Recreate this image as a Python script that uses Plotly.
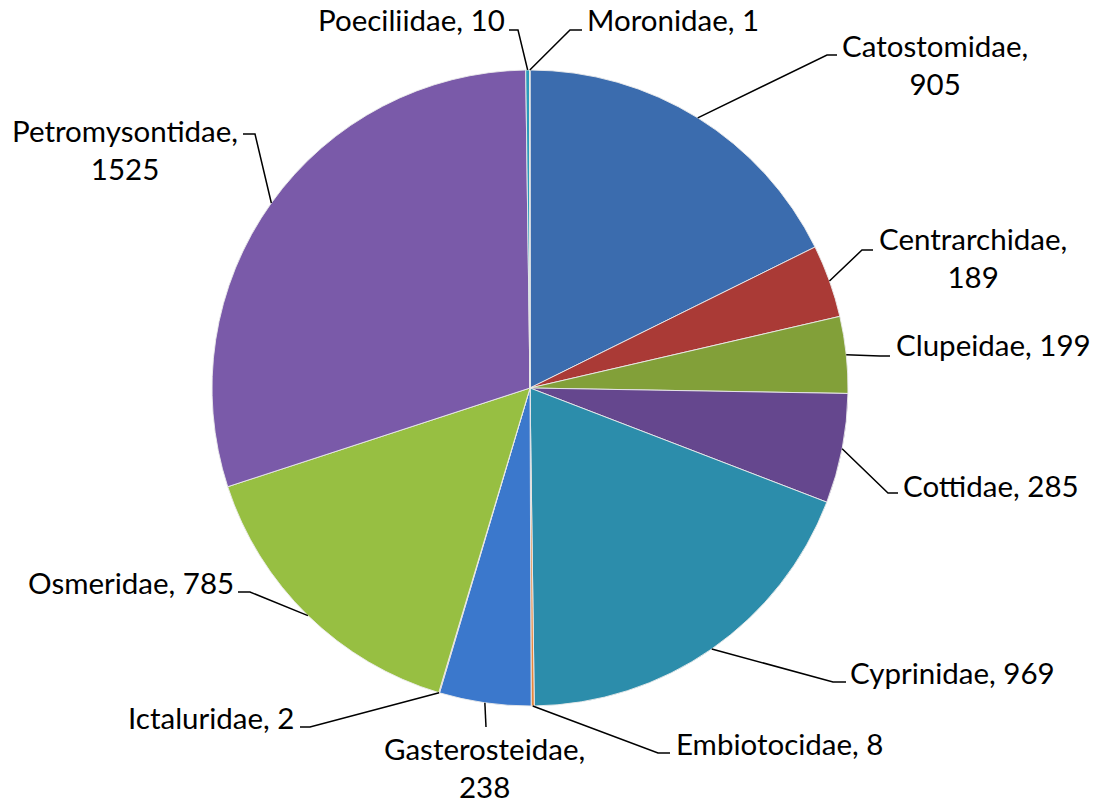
import math
import plotly.graph_objects as go

# ---- data ----
families = ["Catostomidae", "Centrarchidae", "Clupeidae", "Cottidae", "Cyprinidae",
            "Embiotocidae", "Gasterosteidae", "Ictaluridae", "Osmeridae",
            "Petromysontidae", "Poeciliidae", "Moronidae"]
counts = [905, 189, 199, 285, 969, 8, 238, 2, 785, 1525, 10, 1]

# ---- style ----
colors = ["#3B6CAE", "#AA3A36", "#82A039", "#65478E", "#2C8DAB", "#E8863A",
          "#3B78CC", "#B5403B", "#97BF42", "#7A5AA9", "#2A9CBC", "#F08E40"]

W, H = 1094, 803
CX, CY, R = 530, 388, 318
FONT = dict(family="Lato, 'Liberation Sans', sans-serif", size=29.5, color="black")

# label layout (pixels): text anchor x, y-center, xanchor, line break, elbow, stub end
label_cfg = {
    "Catostomidae":    dict(tx=935, ty=65,  xa="center", br=True,  E=(827, 55),  S=(837, 55)),
    "Centrarchidae":   dict(tx=973, ty=258, xa="center", br=True,  E=(862, 250), S=(873, 250)),
    "Clupeidae":       dict(tx=894, ty=345, xa="left",   br=False, E=(880, 356), S=(890, 356)),
    "Cottidae":        dict(tx=901, ty=485, xa="left",   br=False, E=(888, 493), S=(898, 493)),
    "Cyprinidae":      dict(tx=848, ty=672, xa="left",   br=False, E=(833, 682), S=(846, 682)),
    "Embiotocidae":    dict(tx=674, ty=743, xa="left",   br=False, E=(658, 753), S=(670, 753)),
    "Gasterosteidae":  dict(tx=484, ty=767, xa="center", br=True,  E=(486, 727), S=(486, 727)),
    "Ictaluridae":     dict(tx=296, ty=717, xa="right",  br=False, E=(310, 727), S=(300, 727)),
    "Osmeridae":       dict(tx=236, ty=582, xa="right",  br=False, E=(250, 592), S=(238, 592)),
    "Petromysontidae": dict(tx=125, ty=150, xa="center", br=True,  E=(255, 134), S=(243, 134)),
    "Poeciliidae":     dict(tx=507, ty=20,  xa="right",  br=False, E=(518, 30),  S=(509, 30)),
    "Moronidae":       dict(tx=585, ty=20,  xa="left",   br=False, E=(570, 30),  S=(582, 30)),
}


def px(x):
    return x / W


def py(y):
    return 1 - y / H


fig = go.Figure(go.Pie(
    labels=families, values=counts, sort=False, direction="clockwise", rotation=0,
    marker=dict(colors=colors, line=dict(color="rgba(235,235,235,0.9)", width=1)),
    textinfo="none", hoverinfo="label+value", showlegend=False,
    domain=dict(x=[px(CX - R), px(CX + R)], y=[py(CY + R), py(CY - R)]),
))

total = sum(counts)
cum = 0
shapes, annotations = [], []
for name, v in zip(families, counts):
    mid = (cum + v / 2) / total * 2 * math.pi
    cum += v
    ex, ey = CX + R * math.sin(mid), CY - R * math.cos(mid)
    c = label_cfg[name]
    path = f"M {px(ex)},{py(ey)} L {px(c['E'][0])},{py(c['E'][1])} L {px(c['S'][0])},{py(c['S'][1])}"
    shapes.append(dict(type="path", xref="paper", yref="paper", path=path,
                       line=dict(color="black", width=1.5)))
    text = f"{name},<br>{v}" if c["br"] else f"{name}, {v}"
    annotations.append(dict(x=px(c["tx"]), y=py(c["ty"]), xref="paper", yref="paper",
                            text=text, showarrow=False, xanchor=c["xa"], yanchor="middle",
                            align="center", font=FONT))

fig.update_layout(width=W, height=H, margin=dict(l=0, r=0, t=0, b=0),
                  paper_bgcolor="white", plot_bgcolor="white",
                  shapes=shapes, annotations=annotations)
fig.write_html("out.html", config={"displayModeBar": False},
               post_script="document.body.style.margin='0';document.body.style.overflow='hidden';")
